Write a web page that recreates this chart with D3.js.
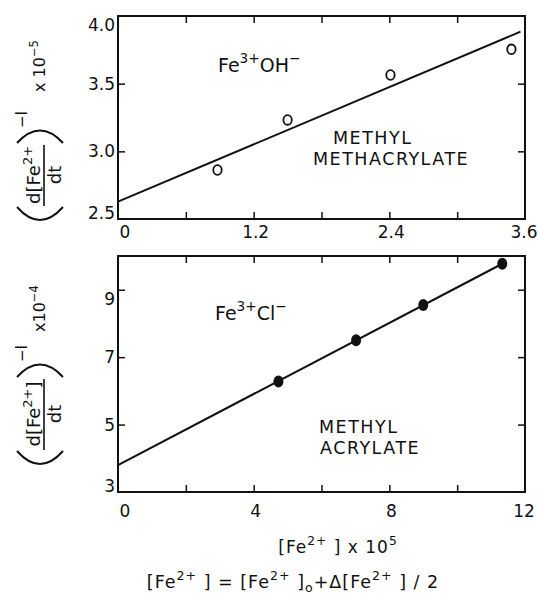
<!DOCTYPE html>
<html>
<head>
<meta charset="utf-8">
<script src="https://cdn.jsdelivr.net/npm/d3@7"></script>
<style>
  body { margin: 0; background: #fff; }
  svg { font-family: "DejaVu Sans", sans-serif; fill: #111; }
</style>
</head>
<body>
<script>
// top panel : Fe3+ OH- , methyl methacrylate
var topFe = [0.88, 1.50, 2.41, 3.48],
    topRate = [2.862, 3.232, 3.564, 3.754],
    topFitX = [0, 3.56],
    topFitY = [2.628, 3.884],
    topXTicks = [0.6, 1.2, 1.8, 2.4, 3.0],
    topXLabels = [0, 1.2, 2.4, 3.6],
    topYTicks = [3.0, 3.5],
    topYLabels = [2.5, 3.0, 3.5, 4.0];

// bottom panel : Fe3+ Cl- , methyl acrylate
var botFe = [4.73, 7.02, 9.0, 11.33],
    botRate = [6.28, 7.50, 8.55, 9.77],
    botFitX = [0, 11.33],
    botFitY = [3.8, 9.77],
    botXTicks = [2, 4, 6, 8, 10],
    botXLabels = [0, 4, 8, 12],
    botYTicks = [5, 7, 9],
    botYLabels = [3, 5, 7, 9];

var width = 538, height = 596;

var svg = d3.select('body').append('svg')
  .attr('width', width).attr('height', height);

var topX = d3.scaleLinear().domain([0, 3.6]).range([118, 525]),
    topY = d3.scaleLinear().domain([2.5, 4.0]).range([219, 16]),
    botX = d3.scaleLinear().domain([0, 12]).range([118, 525]),
    botY = d3.scaleLinear().domain([3, 10]).range([492, 256]);

// text with superscripts / subscripts
function rich(g, x, y, parts, fs, anchor, ls) {
  var t = g.append('text').attr('x', x).attr('y', y)
    .attr('font-size', fs).attr('text-anchor', anchor || 'start')
    .attr('letter-spacing', ls || 0);
  var cur = 0;
  parts.forEach(function (p) {
    var off = p[1] == 'sup' ? -0.45 * fs : p[1] == 'sub' ? 0.22 * fs : 0;
    t.append('tspan')
      .attr('dy', off - cur)
      .attr('font-size', p[1] ? fs * 0.72 : fs)
      .text(p[0]);
    cur = off;
  });
  return t;
}

function panel(x, y, xTicks, yTicks) {
  var g = svg.append('g');
  var x0 = x.range()[0], x1 = x.range()[1],
      y0 = y.range()[0], y1 = y.range()[1];
  g.append('rect')
    .attr('x', x0).attr('y', y1)
    .attr('width', x1 - x0).attr('height', y0 - y1)
    .attr('fill', 'none').attr('stroke', '#111').attr('stroke-width', 2);

  var axes = [
    [d3.axisBottom(x).tickValues(xTicks), 'translate(0,' + y0 + ')'],
    [d3.axisTop(x).tickValues(xTicks), 'translate(0,' + y1 + ')'],
    [d3.axisLeft(y).tickValues(yTicks), 'translate(' + x0 + ',0)'],
    [d3.axisRight(y).tickValues(yTicks), 'translate(' + x1 + ',0)']
  ];
  axes.forEach(function (a) {
    var ax = g.append('g').attr('transform', a[1])
      .call(a[0].tickSize(-7).tickFormat(''));
    ax.select('.domain').remove();
    ax.selectAll('line').attr('stroke', '#111').attr('stroke-width', 1.5);
  });
  return g;
}

var gTop = panel(topX, topY, topXTicks, topYTicks);
var gBot = panel(botX, botY, botXTicks, botYTicks);

// tick labels
function xLabels(g, x, vals, baseline, fmt) {
  g.selectAll('text.xl').data(vals).enter().append('text')
    .attr('class', 'xl')
    .attr('x', function (d, i) {
      if (i == 0) return x(d) + 7;
      if (i == vals.length - 1) return x(d) - 1;
      return x(d) + 2;
    })
    .attr('y', baseline)
    .attr('text-anchor', 'middle')
    .attr('font-size', 17)
    .text(fmt);
}
function yLabels(g, y, vals, fmt) {
  var n = vals.length;
  g.selectAll('text.yl').data(vals).enter().append('text')
    .attr('class', 'yl')
    .attr('x', 115)
    .attr('y', function (d, i) {
      var off = i == 0 ? -6 : i == n - 1 ? 9 : 0;
      return y(d) + off;
    })
    .attr('dy', '0.36em')
    .attr('text-anchor', 'end')
    .attr('font-size', 17)
    .text(fmt);
}

xLabels(gTop, topX, topXLabels, 238, function (d) { return d == 0 ? '0' : d3.format('.1f')(d); });
xLabels(gBot, botX, botXLabels, 517, function (d) { return d; });
yLabels(gTop, topY, topYLabels, d3.format('.1f'));
yLabels(gBot, botY, botYLabels, function (d) { return d; });

// fitted lines
var topLine = d3.line().x(function (d) { return topX(d[0]); }).y(function (d) { return topY(d[1]); });
gTop.append('path')
  .attr('d', topLine(d3.zip(topFitX, topFitY)))
  .attr('fill', 'none').attr('stroke', '#111').attr('stroke-width', 2);

var botLine = d3.line().x(function (d) { return botX(d[0]); }).y(function (d) { return botY(d[1]); });
gBot.append('path')
  .attr('d', botLine(d3.zip(botFitX, botFitY)))
  .attr('fill', 'none').attr('stroke', '#111').attr('stroke-width', 2);

// points
gTop.selectAll('ellipse').data(d3.zip(topFe, topRate)).enter().append('ellipse')
  .attr('cx', function (d) { return topX(d[0]); })
  .attr('cy', function (d) { return topY(d[1]); })
  .attr('rx', 4.2).attr('ry', 4.8)
  .attr('fill', '#fff').attr('stroke', '#111').attr('stroke-width', 1.8);

gBot.selectAll('ellipse').data(d3.zip(botFe, botRate)).enter().append('ellipse')
  .attr('cx', function (d) { return botX(d[0]); })
  .attr('cy', function (d) { return botY(d[1]); })
  .attr('rx', 5).attr('ry', 6)
  .attr('fill', '#111');

// panel texts
rich(gTop, 218, 72, [['Fe'], ['3+', 'sup'], ['OH'], ['\u2212', 'sup']], 19);
rich(gBot, 215, 320, [['Fe'], ['3+', 'sup'], ['Cl'], ['\u2212', 'sup']], 19);

function caps(g, x, y, s) {
  g.append('text').attr('x', x).attr('y', y)
    .attr('font-size', 17.5).attr('letter-spacing', 1.5).text(s);
}
caps(gTop, 333, 144, 'METHYL');
caps(gTop, 313, 165, 'METHACRYLATE');
caps(gBot, 319, 433, 'METHYL');
caps(gBot, 320, 454, 'ACRYLATE');

// y axis titles (rotated)
function yTitle(bottom, numParts, pR, expX, expParts) {
  var g = svg.append('g').attr('transform', 'translate(0,' + bottom + ') rotate(-90)');
  var pen = function (d) {
    g.append('path').attr('d', d).attr('fill', 'none')
      .attr('stroke', '#111').attr('stroke-width', 2);
  };
  pen('M16,17 Q-10,40 16,63');
  var mid = (16 + pR) / 2;
  rich(g, mid, 40, numParts, 18, 'middle');
  g.append('line').attr('x1', 17).attr('x2', pR - 2).attr('y1', 44).attr('y2', 44)
    .attr('stroke', '#111').attr('stroke-width', 1.6);
  rich(g, mid, 61, [['dt']], 18, 'middle');
  pen('M' + pR + ',17 Q' + (pR + 25) + ',40 ' + pR + ',63');
  rich(g, pR + 15, 27, [['\u2212I']], 15);
  rich(g, expX, 45, expParts, 16);
}
yTitle(223, [['d[Fe'], ['2+', 'sup']], 80, 131, [['x 10'], ['\u22125', 'sup']]);
yTitle(467, [['d[Fe'], ['2+', 'sup'], [']']], 90, 135, [['x10'], ['\u22124', 'sup']]);

// x axis title and footnote
rich(svg, 338, 553, [['[Fe'], ['2+', 'sup'], [' ] x 10'], ['5', 'sup']], 17, 'middle', 1);
rich(svg, 293, 588, [['[Fe'], ['2+', 'sup'], [' ] = [Fe'], ['2+', 'sup'], [' ]'], ['o', 'sub'],
  ['+\u0394[Fe'], ['2+', 'sup'], [' ] / 2']], 17.5, 'middle', 1);
</script>
</body>
</html>
